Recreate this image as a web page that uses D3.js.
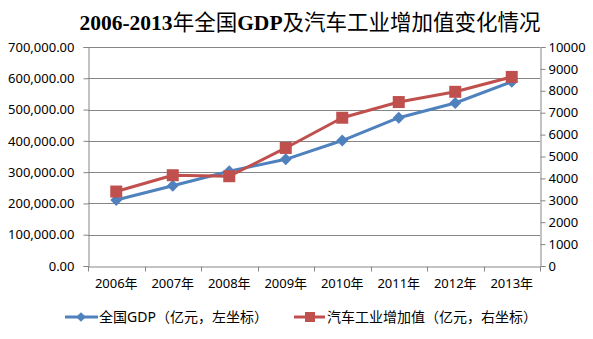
<!DOCTYPE html>
<html>
<head>
<meta charset="utf-8">
<script src="https://cdn.jsdelivr.net/npm/d3@7"></script>
<style>
  html, body { margin: 0; padding: 0; background: #fff; }
  svg { display: block; }
</style>
</head>
<body>
<svg id="chart" width="593" height="339"></svg>
<script>
// 2006–2013 national GDP (left axis) and automotive industry value added (right axis), in 亿元
const years = ["2006年", "2007年", "2008年", "2009年", "2010年", "2011年", "2012年", "2013年"];
const gdp = [211000, 256500, 303000, 341000, 401000, 474000, 521000, 589000];
const autoValue = [3400, 4145, 4100, 5390, 6770, 7486, 7954, 8633];
const leftTicks = [0, 100000, 200000, 300000, 400000, 500000, 600000, 700000];
const rightTicks = [0, 1000, 2000, 3000, 4000, 5000, 6000, 7000, 8000, 9000, 10000];
const titleText = "2006-2013年全国GDP及汽车工业增加值变化情况";
const legendGdp = "全国GDP（亿元，左坐标）";
const legendAuto = "汽车工业增加值（亿元，右坐标）";

const blue = "#4F81BD";
const red = "#C0504D";
const axisColor = "#868686";
const labelFont = "'Noto Sans', 'Noto Sans CJK SC', sans-serif";

const svg = d3.select("#chart");
const plot = { left: 88, right: 540, top: 47, bottom: 266 };

const x = d3.scaleBand().domain(years).range([plot.left, plot.right]);
const yL = d3.scaleLinear().domain([0, 700000]).range([plot.bottom, plot.top]);
const yR = d3.scaleLinear().domain([0, 10000]).range([plot.bottom, plot.top]);

// title: Latin runs in bold serif, CJK runs in regular weight
const title = svg.append("text")
  .attr("x", 310).attr("y", 30)
  .attr("text-anchor", "middle")
  .style("font-size", "21.5px")
  .attr("fill", "#000");
const runs = titleText.match(/[\x00-\x7F]+|[^\x00-\x7F]+/g);
title.selectAll("tspan")
  .data(runs)
  .join("tspan")
  .style("font-family", d => /^[\x00-\x7F]+$/.test(d)
    ? "'Liberation Serif', serif"
    : "'Noto Sans CJK SC', sans-serif")
  .style("font-weight", d => /^[\x00-\x7F]+$/.test(d) ? "bold" : "normal")
  .text(d => d);

// horizontal gridlines from the left axis ticks
svg.append("g")
  .selectAll("line")
  .data(leftTicks.filter(d => d > 0))
  .join("line")
  .attr("x1", plot.left).attr("x2", plot.right)
  .attr("y1", d => Math.round(yL(d)) + 0.5).attr("y2", d => Math.round(yL(d)) + 0.5)
  .attr("stroke", axisColor).attr("stroke-width", 1);

// left axis
const leftAxis = svg.append("g")
  .attr("transform", `translate(${plot.left + 0.5},0)`)
  .call(d3.axisLeft(yL).tickValues(leftTicks).tickFormat(d3.format(",.2f")).tickSize(5).tickPadding(9));

// right axis
const rightAxis = svg.append("g")
  .attr("transform", `translate(${plot.right + 0.5},0)`)
  .call(d3.axisRight(yR).tickValues(rightTicks).tickFormat(d3.format("d")).tickSize(5).tickPadding(3));

// bottom axis: ticks sit between categories
const bottomAxis = svg.append("g")
  .attr("transform", `translate(0,${plot.bottom + 0.5})`)
  .call(d3.axisBottom(x).tickSize(0).tickPadding(12));
bottomAxis.append("g")
  .selectAll("line")
  .data(d3.range(years.length + 1))
  .join("line")
  .attr("x1", i => Math.round(plot.left + i * x.step()) + 0.5)
  .attr("x2", i => Math.round(plot.left + i * x.step()) + 0.5)
  .attr("y1", 0).attr("y2", 5)
  .attr("stroke", axisColor);

[leftAxis, rightAxis, bottomAxis].forEach(g => {
  g.select(".domain").attr("stroke", axisColor);
  g.selectAll(".tick line").attr("stroke", axisColor);
  g.selectAll("text")
    .style("font-family", labelFont)
    .style("font-size", "13px")
    .attr("fill", "#000");
});

const cx = d => x(d) + x.bandwidth() / 2;

// GDP line with diamond markers
svg.append("path")
  .datum(years.map((yr, i) => [cx(yr), yL(gdp[i])]))
  .attr("d", d3.line())
  .attr("fill", "none").attr("stroke", blue).attr("stroke-width", 3)
  .attr("stroke-linejoin", "round");
svg.append("g")
  .selectAll("path")
  .data(years)
  .join("path")
  .attr("transform", (yr, i) => `translate(${cx(yr)},${yL(gdp[i])})`)
  .attr("d", d3.symbol(d3.symbolDiamond2, 90))
  .attr("fill", blue);

// auto industry line with square markers
svg.append("path")
  .datum(years.map((yr, i) => [cx(yr), yR(autoValue[i])]))
  .attr("d", d3.line())
  .attr("fill", "none").attr("stroke", red).attr("stroke-width", 3)
  .attr("stroke-linejoin", "round");
svg.append("g")
  .selectAll("rect")
  .data(years)
  .join("rect")
  .attr("x", yr => cx(yr) - 6).attr("y", (yr, i) => yR(autoValue[i]) - 6)
  .attr("width", 12).attr("height", 12)
  .attr("fill", red);

// legend
const legendY = 317;
const legend = svg.append("g");
legend.append("line").attr("x1", 65).attr("x2", 98).attr("y1", legendY).attr("y2", legendY)
  .attr("stroke", blue).attr("stroke-width", 3);
legend.append("path").attr("transform", `translate(81,${legendY})`)
  .attr("d", d3.symbol(d3.symbolDiamond2, 60)).attr("fill", blue);
legend.append("text").attr("x", 99).attr("y", legendY + 5)
  .style("font-family", labelFont).style("font-size", "14px").attr("fill", "#000")
  .text(legendGdp);

legend.append("line").attr("x1", 294).attr("x2", 325).attr("y1", legendY).attr("y2", legendY)
  .attr("stroke", red).attr("stroke-width", 3);
legend.append("rect").attr("x", 305).attr("y", legendY - 5).attr("width", 10).attr("height", 10)
  .attr("fill", red);
legend.append("text").attr("x", 327).attr("y", legendY + 5)
  .style("font-family", labelFont).style("font-size", "14px").attr("fill", "#000")
  .text(legendAuto);
</script>
</body>
</html>
